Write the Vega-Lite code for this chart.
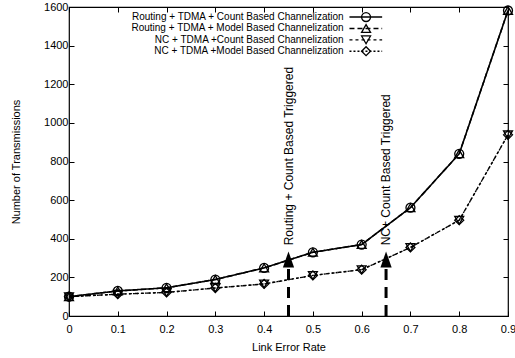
{
  "$schema": "https://vega.github.io/schema/vega-lite/v6.json",
  "width": 439,
  "height": 309,
  "autosize": {"type": "none"},
  "padding": {"left": 69, "top": 7, "right": 7, "bottom": 42},
  "background": "white",
  "config": {
    "font": "Liberation Sans",
    "view": {"stroke": "black", "strokeWidth": 1.2},
    "axis": {
      "grid": false,
      "domain": false,
      "tickColor": "black",
      "tickSize": -5,
      "labelFont": "Liberation Sans",
      "labelFontSize": 11,
      "labelColor": "black",
      "titleFont": "Liberation Sans",
      "titleFontSize": 11,
      "titleFontWeight": "normal",
      "titleColor": "black"
    }
  },
  "datasets": {
    "series": [
      {"x": 0, "v": 100, "s": "Routing + TDMA + Count Based Channelization"},
      {"x": 0.1, "v": 130, "s": "Routing + TDMA + Count Based Channelization"},
      {"x": 0.2, "v": 146, "s": "Routing + TDMA + Count Based Channelization"},
      {"x": 0.3, "v": 189, "s": "Routing + TDMA + Count Based Channelization"},
      {"x": 0.4, "v": 249, "s": "Routing + TDMA + Count Based Channelization"},
      {"x": 0.5, "v": 330, "s": "Routing + TDMA + Count Based Channelization"},
      {"x": 0.6, "v": 370, "s": "Routing + TDMA + Count Based Channelization"},
      {"x": 0.7, "v": 561, "s": "Routing + TDMA + Count Based Channelization"},
      {"x": 0.8, "v": 840, "s": "Routing + TDMA + Count Based Channelization"},
      {"x": 0.9, "v": 1582, "s": "Routing + TDMA + Count Based Channelization"},
      {"x": 0, "v": 100, "s": "Routing + TDMA + Model Based Channelization"},
      {"x": 0.1, "v": 130, "s": "Routing + TDMA + Model Based Channelization"},
      {"x": 0.2, "v": 146, "s": "Routing + TDMA + Model Based Channelization"},
      {"x": 0.3, "v": 189, "s": "Routing + TDMA + Model Based Channelization"},
      {"x": 0.4, "v": 249, "s": "Routing + TDMA + Model Based Channelization"},
      {"x": 0.5, "v": 330, "s": "Routing + TDMA + Model Based Channelization"},
      {"x": 0.6, "v": 370, "s": "Routing + TDMA + Model Based Channelization"},
      {"x": 0.7, "v": 561, "s": "Routing + TDMA + Model Based Channelization"},
      {"x": 0.8, "v": 840, "s": "Routing + TDMA + Model Based Channelization"},
      {"x": 0.9, "v": 1582, "s": "Routing + TDMA + Model Based Channelization"},
      {"x": 0, "v": 100, "s": "NC + TDMA +Count Based Channelization"},
      {"x": 0.1, "v": 113, "s": "NC + TDMA +Count Based Channelization"},
      {"x": 0.2, "v": 122, "s": "NC + TDMA +Count Based Channelization"},
      {"x": 0.3, "v": 145, "s": "NC + TDMA +Count Based Channelization"},
      {"x": 0.4, "v": 166, "s": "NC + TDMA +Count Based Channelization"},
      {"x": 0.5, "v": 210, "s": "NC + TDMA +Count Based Channelization"},
      {"x": 0.6, "v": 240, "s": "NC + TDMA +Count Based Channelization"},
      {"x": 0.7, "v": 355, "s": "NC + TDMA +Count Based Channelization"},
      {"x": 0.8, "v": 496, "s": "NC + TDMA +Count Based Channelization"},
      {"x": 0.9, "v": 938, "s": "NC + TDMA +Count Based Channelization"},
      {"x": 0, "v": 100, "s": "NC + TDMA +Model Based Channelization"},
      {"x": 0.1, "v": 113, "s": "NC + TDMA +Model Based Channelization"},
      {"x": 0.2, "v": 122, "s": "NC + TDMA +Model Based Channelization"},
      {"x": 0.3, "v": 145, "s": "NC + TDMA +Model Based Channelization"},
      {"x": 0.4, "v": 166, "s": "NC + TDMA +Model Based Channelization"},
      {"x": 0.5, "v": 210, "s": "NC + TDMA +Model Based Channelization"},
      {"x": 0.6, "v": 240, "s": "NC + TDMA +Model Based Channelization"},
      {"x": 0.7, "v": 355, "s": "NC + TDMA +Model Based Channelization"},
      {"x": 0.8, "v": 496, "s": "NC + TDMA +Model Based Channelization"},
      {"x": 0.9, "v": 938, "s": "NC + TDMA +Model Based Channelization"}
    ],
    "legend": [
      {"s": "Routing + TDMA + Count Based Channelization", "ly": 1548},
      {"s": "Routing + TDMA + Model Based Channelization", "ly": 1489},
      {"s": "NC + TDMA +Count Based Channelization", "ly": 1430},
      {"s": "NC + TDMA +Model Based Channelization", "ly": 1371}
    ],
    "arrows": [
      {"x": 0.45, "label": "Routing + Count Based Triggered"},
      {"x": 0.65, "label": "NC+ Count Based Triggered"}
    ]
  },
  "layer": [
    {
      "data": {"name": "series"},
      "mark": {"type": "line", "color": "black"},
      "encoding": {
        "x": {
          "field": "x", "type": "quantitative",
          "scale": {"domain": [0, 0.9], "nice": false, "zero": false},
          "axis": {"orient": "bottom", "title": "Link Error Rate", "values": [0, 0.1, 0.2, 0.3, 0.4, 0.5, 0.6, 0.7, 0.8, 0.9], "labelExpr": "datum.value == 0 ? '0' : format(datum.value, '.1f')", "labelPadding": 12, "titlePadding": 7, "labelFlush": false}
        },
        "y": {
          "field": "v", "type": "quantitative",
          "scale": {"domain": [0, 1600], "nice": false},
          "axis": {"orient": "left", "title": "Number of Transmissions", "format": "d", "values": [0, 200, 400, 600, 800, 1000, 1200, 1400, 1600], "labelPadding": 6, "titlePadding": 22, "labelFlush": false}
        },
        "detail": {"field": "s"},
        "strokeDash": {
          "field": "s", "type": "nominal", "legend": null,
          "scale": {
            "domain": ["Routing + TDMA + Count Based Channelization", "Routing + TDMA + Model Based Channelization", "NC + TDMA +Count Based Channelization", "NC + TDMA +Model Based Channelization"],
            "range": [[1, 0], [5, 3], [3, 3], [2, 2]]
          }
        },
        "strokeWidth": {
          "field": "s", "type": "nominal", "legend": null,
          "scale": {
            "domain": ["Routing + TDMA + Count Based Channelization", "Routing + TDMA + Model Based Channelization", "NC + TDMA +Count Based Channelization", "NC + TDMA +Model Based Channelization"],
            "range": [1.6, 1.3, 1.2, 1]
          }
        }
      }
    },
    {
      "data": {"name": "series"},
      "mark": {"type": "point", "color": "black", "filled": false, "strokeWidth": 1.3, "size": 80, "opacity": 1},
      "encoding": {
        "x": {"field": "x", "type": "quantitative", "axis": null},
        "y": {"field": "v", "type": "quantitative", "axis": null},
        "shape": {
          "field": "s", "type": "nominal", "legend": null,
          "scale": {
            "domain": ["Routing + TDMA + Count Based Channelization", "Routing + TDMA + Model Based Channelization", "NC + TDMA +Count Based Channelization", "NC + TDMA +Model Based Channelization"],
            "range": ["circle", "triangle-up", "triangle-down", "diamond"]
          }
        }
      }
    },
    {
      "data": {"name": "legend"},
      "mark": {"type": "text", "align": "right", "baseline": "middle", "fontSize": 10, "color": "black"},
      "encoding": {
        "x": {"datum": 0.563, "axis": null},
        "y": {"field": "ly", "type": "quantitative", "axis": null},
        "text": {"field": "s"}
      }
    },
    {
      "data": {"name": "legend"},
      "mark": {"type": "rule", "color": "black"},
      "encoding": {
        "x": {"datum": 0.575, "axis": null},
        "x2": {"datum": 0.642},
        "y": {"field": "ly", "type": "quantitative", "axis": null},
        "strokeDash": {"field": "s", "type": "nominal", "legend": null},
        "strokeWidth": {"field": "s", "type": "nominal", "legend": null}
      }
    },
    {
      "data": {"name": "legend"},
      "mark": {"type": "point", "color": "black", "filled": false, "strokeWidth": 1.3, "size": 80, "opacity": 1},
      "encoding": {
        "x": {"datum": 0.609, "axis": null},
        "y": {"field": "ly", "type": "quantitative", "axis": null},
        "shape": {"field": "s", "type": "nominal", "legend": null}
      }
    },
    {
      "data": {"name": "arrows"},
      "mark": {"type": "rule", "color": "black", "strokeWidth": 3, "strokeDash": [11, 7]},
      "encoding": {
        "x": {"field": "x", "type": "quantitative", "axis": null},
        "y": {"datum": 0, "axis": null},
        "y2": {"datum": 285}
      }
    },
    {
      "data": {"name": "arrows"},
      "mark": {"type": "point", "shape": "M-0.7,1L0,-1L0.7,1Z", "filled": true, "color": "black", "size": 256, "opacity": 1},
      "encoding": {
        "x": {"field": "x", "type": "quantitative", "axis": null},
        "y": {"datum": 293, "axis": null}
      }
    },
    {
      "data": {"name": "arrows"},
      "mark": {"type": "text", "angle": 270, "align": "left", "baseline": "middle", "fontSize": 12, "color": "black"},
      "encoding": {
        "x": {"field": "x", "type": "quantitative", "axis": null},
        "y": {"datum": 366, "axis": null},
        "text": {"field": "label"}
      }
    },
    {
      "data": {"name": "arrows"},
      "mark": {"type": "rule", "opacity": 0},
      "encoding": {
        "x": {"field": "x", "type": "quantitative", "axis": {"orient": "top", "labels": false, "title": null, "values": [0, 0.1, 0.2, 0.3, 0.4, 0.5, 0.6, 0.7, 0.8, 0.9]}},
        "y": {"datum": 0, "axis": {"orient": "right", "labels": false, "title": null, "values": [0, 200, 400, 600, 800, 1000, 1200, 1400, 1600]}}
      }
    }
  ],
  "resolve": {"axis": {"x": "independent", "y": "independent"}}
}
